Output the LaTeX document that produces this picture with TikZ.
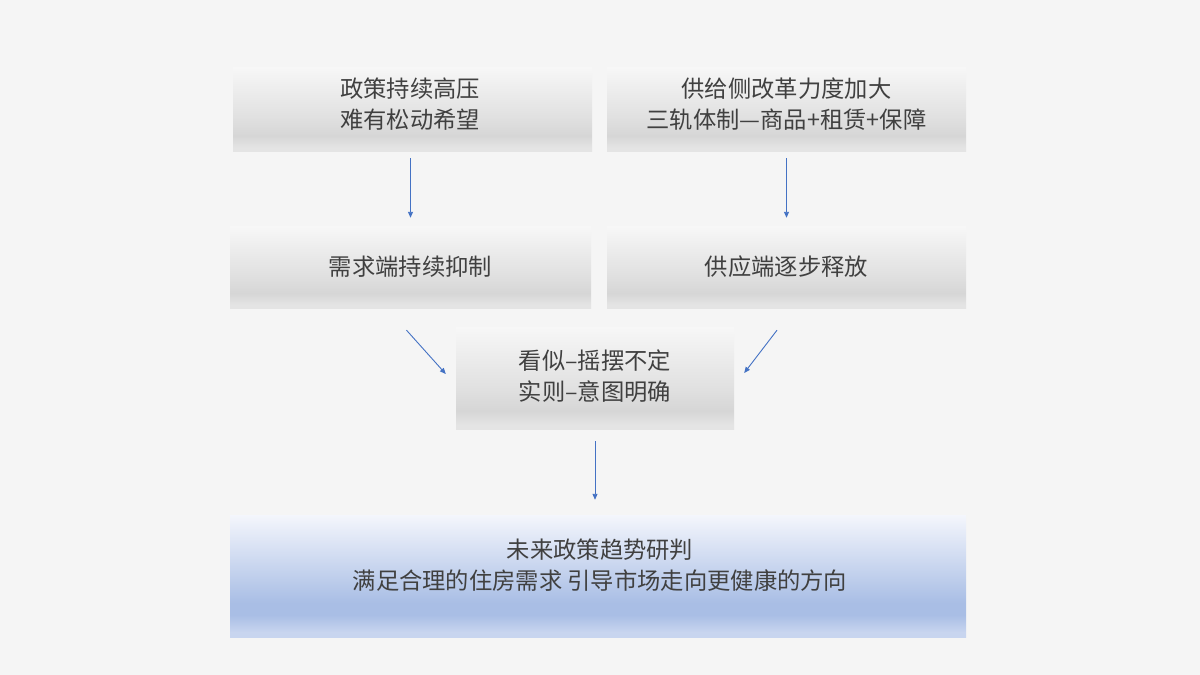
\documentclass[tikz,border=0pt]{standalone}
\usepackage{fontspec}
\newfontfamily\cjk{Noto Sans CJK SC}
\usetikzlibrary{arrows.meta,calc}
\definecolor{bg}{HTML}{F5F5F5}
\definecolor{txt}{HTML}{404040}
\definecolor{arrowblue}{HTML}{4472C4}
\definecolor{gtop}{HTML}{F7F7F7}
\definecolor{gdark}{HTML}{D6D6D6}
\definecolor{gbot}{HTML}{E4E4E4}
\definecolor{btop}{HTML}{F4F6FC}
\definecolor{bdark}{HTML}{A9BEE5}
\definecolor{bbot}{HTML}{C8D5EF}
\pgfdeclareverticalshading{grayshade}{100bp}{%
  color(0bp)=(gbot);
  color(27bp)=(gbot);
  color(34bp)=(gdark);
  color(45bp)=(white!88!black);
  color(75bp)=(gtop);
  color(100bp)=(gtop)}
\pgfdeclareverticalshading{blueshade}{100bp}{%
  color(0bp)=(bbot);
  color(27bp)=(bbot);
  color(34bp)=(bdark);
  color(39bp)=(bdark);
  color(75bp)=(btop);
  color(100bp)=(btop)}
\tikzset{
  boxtext/.style={align=center, text=txt,
    font=\cjk\fontsize{23.3}{31}\selectfont, inner sep=0pt},
  graybox/.style={boxtext, shading=grayshade, draw=none},
  bluebox/.style={boxtext, shading=blueshade, draw=none},
  arr/.style={draw=arrowblue, line width=0.9pt, -{Triangle[length=6pt,width=5pt]}}
}
\begin{document}
\begin{tikzpicture}[x=1pt,y=-1pt]
\fill[bg] (0,0) rectangle (1200,675);
\useasboundingbox (0,0) rectangle (1200,675);
\node[graybox, minimum width=359, minimum height=84] (tl) at (412.5,109) {};
\node[boxtext] (tltext) at (410,104) {政策持续高压\\难有松动希望};
\node[graybox, minimum width=359, minimum height=84] (tr) at (786.5,109) {};
\node[boxtext] (trtext) at (786.5,104) {供给侧改革力度加大\\三轨体制—商品+租赁+保障};
\node[graybox, minimum width=361, minimum height=82] (ml) at (410.5,267) {需求端持续抑制};
\node[graybox, minimum width=359, minimum height=82] (mr) at (786.5,267) {供应端逐步释放};
\node[graybox, minimum width=278, minimum height=102] (mid) at (595,378) {};
\node[boxtext] (midtext) at (595,376.5) {看似–摇摆不定\\实则–意图明确};
\node[bluebox, minimum width=736, minimum height=122] (bot) at (598,576) {};
\node[boxtext] (bottext) at (600,565) {未来政策趋势研判\\满足合理的住房需求 引导市场走向更健康的方向};
\draw[arr, shorten <=7pt, shorten >=8pt] (tl.south -| ml.north) -- (ml.north);
\draw[arr, shorten <=7pt, shorten >=8pt] (tr.south) -- (mr.north);
\draw[arr] ($(ml.south)+(-4,22)$) -- ($(mid.west)+(-10,-4)$);
\draw[arr] ($(mr.south)+(-9.5,22)$) -- ($(mid.east)+(10,-5)$);
\draw[arr, shorten <=12pt, shorten >=15pt] (mid.south) -- (mid.south |- bot.north);
\end{tikzpicture}
\end{document}
